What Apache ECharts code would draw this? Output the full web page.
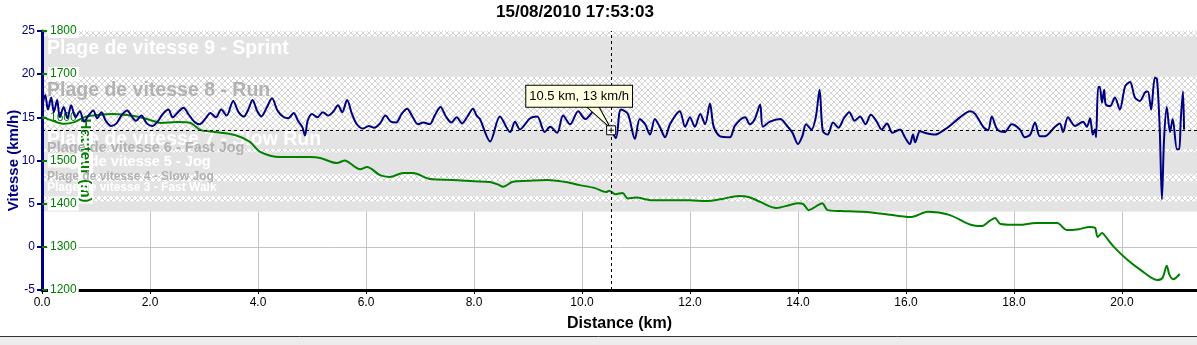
<!DOCTYPE html>
<html>
<head>
<meta charset="utf-8">
<title>Vitesse / Hauteur</title>
<script src="https://cdn.jsdelivr.net/npm/echarts@6/dist/echarts.min.js"></script>
<style>
  html, body { margin: 0; padding: 0; background: #fff; }
  #chart { width: 1197px; height: 345px; }
</style>
</head>
<body>
<div id="chart"></div>
<script>
// distance (km) / vitesse (km/h)
var speedKm = [0.00,0.06,0.11,0.17,0.22,0.28,0.33,0.40,0.47,0.54,0.62,0.70,0.78,0.86,0.95,1.02,1.10,1.18,1.28,1.38,
  1.48,1.58,1.66,1.74,1.84,1.94,2.04,2.14,2.24,2.34,2.42,2.52,2.62,2.72,2.82,2.92,3.02,3.12,3.22,3.32,
  3.42,3.54,3.64,3.74,3.82,3.90,3.98,4.06,4.16,4.26,4.36,4.46,4.56,4.66,4.74,4.82,4.87,4.92,5.00,5.10,
  5.20,5.30,5.40,5.48,5.56,5.65,5.74,5.83,5.95,6.05,6.15,6.26,6.36,6.46,6.56,6.66,6.76,6.86,6.96,7.06,
  7.18,7.28,7.38,7.48,7.58,7.68,7.78,7.88,7.98,8.05,8.11,8.30,8.48,8.67,8.76,8.85,9.04,9.17,9.31,9.41,
  9.54,9.65,9.78,9.93,10.06,10.24,10.39,10.54,10.63,10.72,10.85,10.98,11.07,11.17,11.26,11.35,11.44,11.54,11.63,11.81,
  11.91,12.00,12.09,12.19,12.28,12.37,12.44,12.56,12.74,12.83,13.02,13.11,13.20,13.30,13.35,13.48,13.67,13.80,13.90,14.00,
  14.08,14.15,14.25,14.33,14.40,14.46,14.55,14.65,14.75,14.85,14.95,15.05,15.15,15.25,15.35,15.45,15.55,15.65,15.75,15.89,
  15.98,16.07,16.13,16.17,16.26,16.35,16.54,16.72,16.81,17.00,17.19,17.28,17.43,17.52,17.59,17.69,17.83,17.96,18.11,18.20,
  18.30,18.39,18.48,18.57,18.76,18.85,18.91,19.00,19.13,19.28,19.35,19.41,19.46,19.50,19.52,19.56,19.59,19.63,19.67,19.70,
  19.78,19.87,19.96,20.06,20.15,20.24,20.33,20.43,20.48,20.54,20.61,20.65,20.70,20.74,20.78,20.83,20.89,20.94,21.02,21.06,
  21.09,21.13,21.15];
var speedKmh = [16.0,17.6,15.9,17.3,15.6,17.0,15.0,16.2,14.9,16.4,15.0,15.7,14.5,15.2,15.8,14.9,15.6,14.6,14.0,14.3,
  15.3,15.8,15.1,14.6,15.2,14.3,14.0,14.5,15.4,15.9,15.0,15.6,16.1,15.3,14.5,14.2,14.8,15.5,15.0,15.9,
  15.2,16.9,15.6,15.1,15.9,17.0,15.8,15.1,16.1,17.2,15.8,15.1,14.9,15.5,14.6,13.9,12.9,14.6,15.4,15.0,
  15.6,15.2,15.7,16.4,15.6,17.0,15.4,14.2,13.7,14.0,13.8,14.3,15.2,14.5,14.4,15.4,16.0,15.1,14.2,14.4,
  14.2,15.3,16.2,15.1,14.4,15.0,14.3,15.1,16.0,15.2,14.8,12.2,15.1,13.3,14.5,13.6,14.9,15.1,13.3,13.9,
  13.2,15.2,14.2,15.7,14.8,15.8,14.8,13.5,12.6,15.9,15.4,12.5,14.8,14.2,13.0,14.8,13.9,12.7,14.2,15.7,
  13.9,15.0,13.9,15.4,14.2,16.6,13.9,12.8,12.7,14.0,15.0,14.2,14.8,16.5,13.9,14.5,14.8,14.0,13.2,11.9,
  12.8,14.2,13.6,15.0,18.2,13.4,13.0,14.4,13.8,14.9,15.6,14.6,15.1,14.2,15.3,14.6,13.6,14.3,13.2,13.6,
  12.7,11.9,13.0,12.1,13.4,13.2,13.0,13.6,14.0,15.0,15.7,15.4,13.9,13.5,15.1,13.6,13.3,14.2,13.6,12.7,
  13.0,14.4,12.8,12.8,13.9,14.3,13.3,15.0,14.0,14.5,13.9,14.9,13.0,13.6,12.7,18.5,18.5,16.7,18.2,16.5,
  16.3,17.3,15.9,18.6,19.1,17.3,16.9,17.9,18.0,15.9,19.6,19.4,13.6,5.5,12.5,16.2,13.3,14.8,11.3,11.3,
  14.8,18.0,13.6];

// distance (km) / hauteur (m)
var altKm = [0.0,0.2,0.4,0.6,0.8,1.0,1.3,1.6,1.8,2.0,2.2,2.5,2.75,2.93,3.2,3.57,3.85,4.04,4.41,4.96,
  5.15,5.46,5.61,5.70,5.89,6.02,6.26,6.44,6.69,6.87,7.19,7.6,8.0,8.3,8.45,8.54,8.72,9.0,9.35,9.7,
  9.96,10.24,10.45,10.5,10.62,10.75,10.85,11.0,11.3,11.6,12.0,12.3,12.6,12.9,13.1,13.3,13.6,13.85,14.0,14.1,
  14.2,14.35,14.45,14.55,14.8,15.2,15.6,15.9,16.1,16.4,16.8,17.2,17.4,17.55,17.65,17.75,18.1,18.4,18.8,18.98,
  19.2,19.4,19.5,19.55,19.63,19.72,19.85,20.1,20.35,20.65,20.75,20.83,20.88,20.95,21.07];
var altM = [1601,1592,1585,1589,1601,1605,1608,1605,1601,1594,1587,1589,1587,1571,1566,1559,1543,1520,1508,1508,
  1506,1494,1500,1494,1480,1485,1466,1462,1471,1471,1457,1455,1452,1450,1444,1439,1451,1453,1455,1450,
  1443,1436,1427,1430,1422,1425,1412,1414,1408,1408,1408,1406,1411,1418,1415,1404,1390,1397,1401,1399,
  1385,1395,1401,1385,1383,1381,1376,1371,1369,1381,1374,1351,1348,1360,1367,1353,1351,1355,1355,1339,
  1341,1346,1344,1323,1332,1320,1300,1270,1246,1223,1228,1256,1235,1225,1237];

// plages de vitesse (km/h)
var zoneNames = ['Plage de vitesse 9 - Sprint', 'Plage de vitesse 8 - Run', 'Plage de vitesse 7 - Slow Run',
  'Plage de vitesse 6 - Fast Jog', 'Plage de vitesse 5 - Jog', 'Plage de vitesse 4 - Slow Jog', 'Plage de vitesse 3 - Fast Walk'];
var zoneTop = [24.7, 19.87, 14.11, 12.85, 11.3, 9.37, 8.18];
var hatchRange = [25, 4.1];
var solidHi = [24.4, 13.6, 10.95, 7.6, 5.27];
var solidLo = [19.7, 11.3, 8.4, 5.85, 4.1];

var cursorKm = 10.54, cursorKmh = 13.5;
var titleText = '15/08/2010 17:53:03';

// motif hachuré
var hatch = document.createElement('canvas');
hatch.width = 6; hatch.height = 6;
var hc = hatch.getContext('2d');
hc.fillStyle = '#ffffff'; hc.fillRect(0, 0, 6, 6);
hc.strokeStyle = '#d4d4d4'; hc.lineWidth = 1;
hc.beginPath(); hc.moveTo(0, 0); hc.lineTo(6, 6); hc.moveTo(6, 0); hc.lineTo(0, 6); hc.stroke();

var NAVY = '#000080', GREEN = '#008000';
var FONT = '"Liberation Sans", Arial, sans-serif';

var fillAreas = [[{yAxis: hatchRange[0], itemStyle: {color: {image: hatch, repeat: 'repeat'}}}, {yAxis: hatchRange[1]}]];
for (var i = 0; i < solidHi.length; i++) {
  fillAreas.push([{yAxis: solidHi[i], itemStyle: {color: '#e3e3e3'}}, {yAxis: solidLo[i]}]);
}
var zoneFont = [19.5, 19.5, 19.5, 14.5, 14.5, 12, 12];
var labelAreas = zoneNames.map(function (n, i) {
  return [{
    yAxis: zoneTop[i], name: n,
    itemStyle: {color: 'rgba(0,0,0,0)'},
    label: {show: true, position: 'insideTopLeft', distance: 5, formatter: n,
      color: i % 2 === 0 ? '#ffffff' : '#b2b2b2', fontWeight: 'bold', fontSize: zoneFont[i], fontFamily: FONT}
  }, {yAxis: zoneTop[i] - 0.5}];
});

var speedData = speedKm.map(function (k, i) { return [k, speedKmh[i]]; });
var altData = altKm.map(function (k, i) { return [k, altM[i]]; });
var tipText = cursorKm.toFixed(1) + ' km, ' + Math.floor(cursorKmh) + ' km/h';

var chart = echarts.init(document.getElementById('chart'));
chart.setOption({
  animation: false,
  textStyle: {fontFamily: FONT},
  title: {
    text: titleText, left: 496, top: 4, padding: 0,
    textStyle: {fontSize: 17, fontWeight: 'bold', color: '#000', fontFamily: FONT}
  },
  grid: {left: 42, right: 0, top: 31, bottom: 55, containLabel: false, outerBoundsMode: 'none'},
  xAxis: {
    type: 'value', min: 0, max: 21.39, interval: 2, z: 1,
    name: 'Distance (km)', nameLocation: 'middle', nameGap: 26, nameMoveOverlap: false,
    nameTextStyle: {fontSize: 16, fontWeight: 'bold', color: '#000'},
    axisLine: {onZero: false, lineStyle: {color: '#000', width: 3}},
    axisTick: {length: 4, lineStyle: {color: '#000', width: 1}},
    axisLabel: {color: '#000', fontSize: 12, margin: 7, showMaxLabel: false,
      formatter: function (v) { return v.toFixed(1); }},
    splitLine: {show: true, lineStyle: {color: '#c4c4c4', width: 1}}
  },
  yAxis: [{
    type: 'value', min: -5, max: 25, interval: 5, z: 1, position: 'left',
    name: 'Vitesse (km/h)', nameLocation: 'middle', nameGap: 21, nameMoveOverlap: false,
    nameTextStyle: {fontSize: 15, fontWeight: 'bold', color: NAVY},
    axisLine: {show: true, onZero: false, lineStyle: {color: NAVY, width: 3}},
    axisTick: {show: true, length: 5, lineStyle: {color: NAVY, width: 2}},
    axisLabel: {color: NAVY, fontSize: 12, margin: 7, formatter: function (v) { return String(v); }},
    splitLine: {show: true, lineStyle: {color: '#c4c4c4', width: 1}}
  }, {
    type: 'value', min: 1200, max: 1800, interval: 100, z: 1, position: 'left', offset: 0,
    name: 'Hauteur (m)', nameLocation: 'middle', nameGap: -51, nameRotate: -90, nameMoveOverlap: false,
    nameTextStyle: {fontSize: 15, fontWeight: 'bold', color: GREEN, backgroundColor: '#fff', padding: [0, 1]},
    axisLine: {show: false, onZero: false},
    axisTick: {show: true, inside: true, length: 5, lineStyle: {color: GREEN, width: 2}},
    axisLabel: {inside: true, color: GREEN, fontSize: 12, margin: 6, backgroundColor: '#fff', padding: [1, 2],
      formatter: function (v) { return String(v); }},
    splitLine: {show: false}
  }],
  graphic: [
    {type: 'rect', shape: {x: 0, y: 337, width: 1197, height: 8}, style: {fill: '#ececec'}},
    {type: 'line', shape: {x1: 0, y1: 336.5, x2: 1197, y2: 336.5}, style: {stroke: '#333', lineWidth: 1}}
  ],
  series: [{
    type: 'line', name: 'fills', data: [], yAxisIndex: 0, z: 0, silent: true,
    markArea: {silent: true, data: fillAreas}
  }, {
    type: 'line', name: 'zones', data: [], yAxisIndex: 0, z: 0, silent: true,
    markArea: {silent: true, data: labelAreas}
  }, {
    type: 'line', name: 'Hauteur', data: altData, yAxisIndex: 1, z: 3,
    showSymbol: false, smooth: 0.3,
    lineStyle: {color: GREEN, width: 2}
  }, {
    type: 'line', name: 'Vitesse', data: speedData, yAxisIndex: 0, z: 4,
    showSymbol: false, smooth: 0.3,
    lineStyle: {color: NAVY, width: 2},
    markLine: {
      silent: true, symbol: ['none', 'none'], label: {show: false},
      lineStyle: {color: '#000', type: [3, 3], width: 1},
      data: [{xAxis: cursorKm}, {yAxis: cursorKmh}]
    },
    markPoint: {
      silent: true,
      data: [{
        coord: [cursorKm, cursorKmh], symbol: 'path://M0,0L27,24L14,0Z', symbolSize: [27, 24], symbolOffset: [-14, -14],
        itemStyle: {color: '#ffffe1', borderColor: '#000', borderWidth: 1}, label: {show: false}
      }, {
        coord: [cursorKm, cursorKmh], symbol: 'path://M0,0H10V10H0Z M5,2V8 M2,5H8', symbolSize: 9,
        itemStyle: {color: '#fff', borderColor: '#000', borderWidth: 1}, label: {show: false}
      }, {
        coord: [cursorKm, cursorKmh], symbol: 'rect', symbolSize: 1,
        itemStyle: {color: 'rgba(0,0,0,0)'},
        label: {show: true, formatter: tipText, position: 'inside', offset: [-32, -34],
          backgroundColor: '#ffffe1', borderColor: '#000', borderWidth: 1, padding: [4, 3],
          fontSize: 13, color: '#000', fontFamily: FONT}
      }]
    }
  }]
});
</script>
</body>
</html>
